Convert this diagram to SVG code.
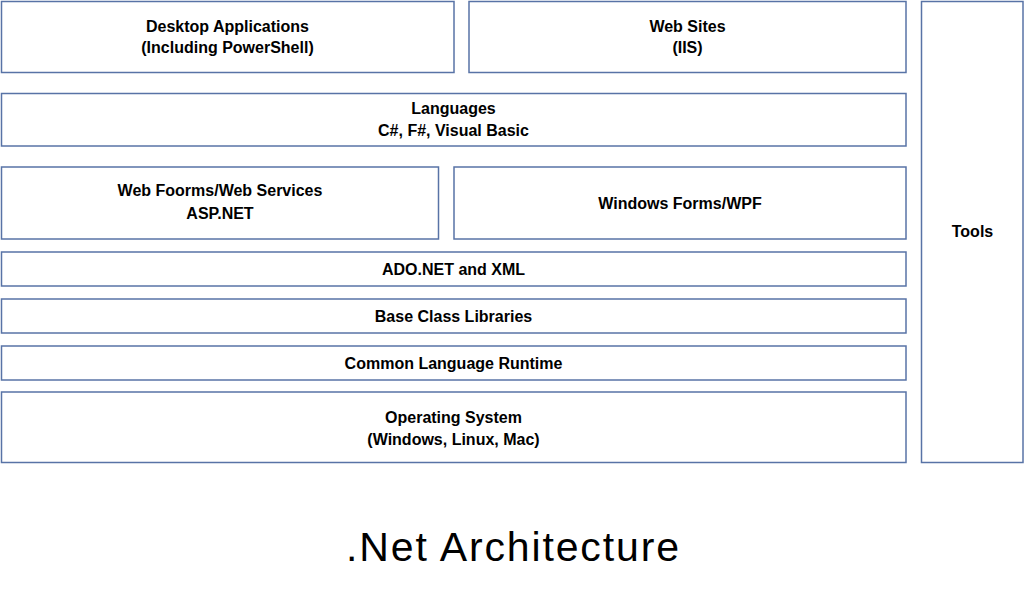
<svg xmlns="http://www.w3.org/2000/svg" width="1025" height="598" viewBox="0 0 1025 598">
<style>
.box{fill:#ffffff;stroke:#5873a6;stroke-width:1.5}
.lbl{font-family:"Liberation Sans",Arial,sans-serif;font-weight:bold;font-size:16px;fill:#000;text-anchor:middle}
.title{font-family:"Liberation Sans",Arial,sans-serif;font-size:41px;fill:#000;text-anchor:middle}
</style>
<rect width="1025" height="598" fill="#ffffff"/>
<g id="desktop-apps"><rect class="box" x="1.5" y="1.5" width="452.5" height="71"/><text class="lbl" x="227.5" y="31.5">Desktop Applications</text><text class="lbl" x="227.5" y="53">(Including PowerShell)</text></g>
<g id="web-sites"><rect class="box" x="469" y="1.5" width="437" height="71"/><text class="lbl" x="687.5" y="31.5">Web Sites</text><text class="lbl" x="687.5" y="53">(IIS)</text></g>
<g id="languages"><rect class="box" x="1.5" y="93.5" width="904.5" height="52.5"/><text class="lbl" x="453.5" y="114">Languages</text><text class="lbl" x="453.5" y="136">C#, F#, Visual Basic</text></g>
<g id="web-forms"><rect class="box" x="1.5" y="167" width="437" height="72"/><text class="lbl" x="220" y="196">Web Foorms/Web Services</text><text class="lbl" x="220" y="219">ASP.NET</text></g>
<g id="windows-forms"><rect class="box" x="454" y="167" width="452" height="72"/><text class="lbl" x="680" y="209">Windows Forms/WPF</text></g>
<g id="ado-net"><rect class="box" x="1.5" y="252" width="904.5" height="34"/><text class="lbl" x="453.5" y="275">ADO.NET and XML</text></g>
<g id="base-class-libraries"><rect class="box" x="1.5" y="299" width="904.5" height="34"/><text class="lbl" x="453.5" y="322">Base Class Libraries</text></g>
<g id="clr"><rect class="box" x="1.5" y="346" width="904.5" height="34"/><text class="lbl" x="453.5" y="369">Common Language Runtime</text></g>
<g id="operating-system"><rect class="box" x="1.5" y="392" width="904.5" height="70.5"/><text class="lbl" x="453.5" y="422.5">Operating System</text><text class="lbl" x="453.5" y="444.5">(Windows, Linux, Mac)</text></g>
<g id="tools"><rect class="box" x="921.5" y="1.5" width="101.5" height="461"/><text class="lbl" x="972.5" y="236.5">Tools</text></g>
<g id="connectors"></g>
<text class="title" x="512.5" y="561" textLength="333" lengthAdjust="spacing">.Net Architecture</text>
</svg>
